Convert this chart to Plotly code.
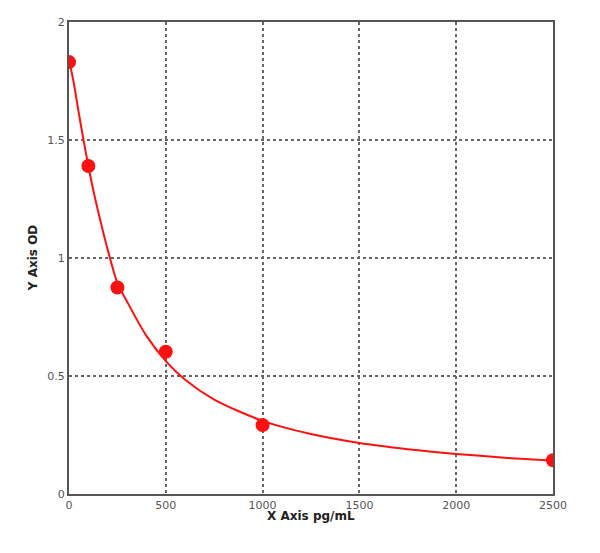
import plotly.graph_objects as go

# Standard points (concentration pg/mL, OD)
conc = [0, 100, 250, 500, 1000, 2500]
od = [1.83, 1.39, 0.875, 0.603, 0.292, 0.143]

# Fitted curve
curve_x = [0, 25, 50, 75, 100, 125, 150, 200, 250, 300, 400, 500, 600, 750, 1000, 1250, 1500, 1750, 2000, 2250, 2500]
curve_y = [1.84, 1.74, 1.617, 1.50, 1.39, 1.289, 1.199, 1.035, 0.895, 0.815, 0.67, 0.563, 0.484, 0.40, 0.31, 0.254, 0.216, 0.19, 0.17, 0.154, 0.142]

x_ticks = [0, 500, 1000, 1500, 2000, 2500]
y_ticks = [0, 0.5, 1, 1.5, 2]
y_tick_text = ["0", "0.5", "1", "1.5", "2"]

FONT = "DejaVu Sans"

fig = go.Figure()
fig.add_trace(go.Scatter(x=curve_x, y=curve_y, mode="lines",
                         line=dict(color="#ff1010", width=2, shape="spline", smoothing=0.8),
                         hoverinfo="skip"))
fig.add_trace(go.Scatter(x=conc, y=od, mode="markers",
                         marker=dict(color="#ff1010", size=14)))

axis_common = dict(showline=True, mirror=True, linecolor="#555555", linewidth=2,
                   showgrid=True, gridcolor="#666666", gridwidth=1.5, griddash="dot",
                   zeroline=False, ticks="", automargin=False,
                   tickfont=dict(family=FONT, size=11, color="#555555"))

fig.update_layout(
    width=600, height=553,
    margin=dict(l=61, r=55, t=14, b=67),
    paper_bgcolor="white", plot_bgcolor="white",
    showlegend=False,
    xaxis=dict(range=[0, 2500], tickvals=x_ticks, **axis_common),
    yaxis=dict(range=[0, 2], tickvals=y_ticks, ticktext=y_tick_text, **axis_common),
    annotations=[
        dict(text="<b>X Axis pg/mL</b>", xref="paper", yref="paper", x=0.5, y=-0.0465,
             xanchor="center", yanchor="middle", showarrow=False,
             font=dict(family=FONT, size=12, color="#222222")),
        dict(text="<b>Y Axis OD</b>", xref="paper", yref="paper", x=-0.074, y=0.5,
             xanchor="center", yanchor="middle", showarrow=False, textangle=-90,
             font=dict(family=FONT, size=12, color="#222222")),
    ],
)

fig.write_html("out.html")
